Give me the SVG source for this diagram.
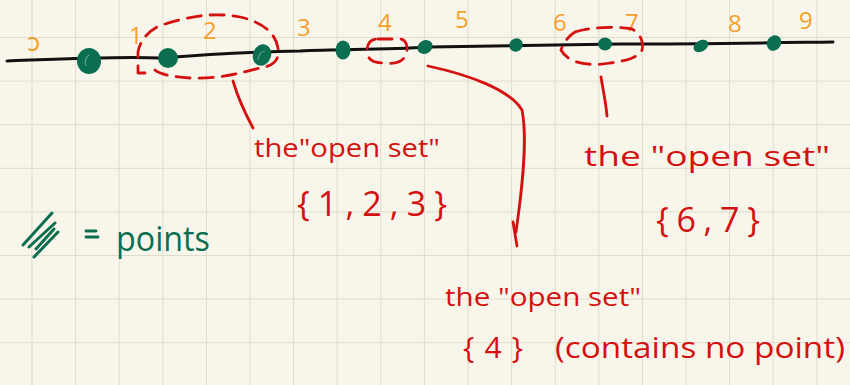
<svg xmlns="http://www.w3.org/2000/svg" width="850" height="385" viewBox="0 0 850 385">
  <defs>
    <pattern id="grid" x="31.5" y="37" width="43.6" height="43.6" patternUnits="userSpaceOnUse">
      <path d="M0 0 V43.6 M0 0 H43.6" fill="none" stroke="#dfdccd" stroke-width="2"/>
    </pattern>
    <style>
      .ink { fill: none; stroke-linecap: round; stroke-linejoin: round; }
      .red { stroke: #d41010; stroke-width: 2.8; }
      .dash { stroke-dasharray: 14 9; }
      .pt { fill: #0b6e50; }
      .hl { fill: none; stroke: #ffffff; stroke-opacity: 0.35; stroke-width: 1.2; }
      .num { font-family: "Open Sans", "DejaVu Sans", sans-serif; font-size: 24px; fill: #f6a02c; }
      .lbl { font-family: "Open Sans", "DejaVu Sans", sans-serif; fill: #d41010; }
      .grn { font-family: "Open Sans", "DejaVu Sans", sans-serif; fill: #0b6e50; }
    </style>
  </defs>

  <!-- paper -->
  <rect width="850" height="385" fill="#f8f6ea"/>
  <rect width="850" height="385" fill="url(#grid)"/>

  <!-- number line -->
  <g id="line">
    <path class="ink" stroke="#111" stroke-width="3" d="M7 61 C60 59 120 56 160 58 C200 55 240 52 300 51 C340 49 380 50 430 47 C500 46 560 45 620 44 C700 44 760 43 833 42"/>
  </g>

  <!-- tick labels -->
  <g id="labels">
    <text class="num" x="27" y="51">ↄ</text>
    <text class="num" x="129" y="44">1</text>
    <text class="num" x="203" y="39">2</text>
    <text class="num" x="297" y="36">3</text>
    <text class="num" x="378" y="31">4</text>
    <text class="num" x="455" y="28">5</text>
    <text class="num" x="553" y="31">6</text>
    <text class="num" x="625" y="31">7</text>
    <text class="num" x="728" y="32">8</text>
    <text class="num" x="799" y="29">9</text>
  </g>

  <!-- points -->
  <g id="points">
    <ellipse class="pt" cx="89" cy="61" rx="12" ry="13"/>
    <path class="hl" d="M86 66 C84 62 86 57 89 55"/>
    <ellipse class="pt" cx="168" cy="58" rx="10" ry="10"/>
    <ellipse class="pt" cx="262" cy="55" rx="9" ry="11" transform="rotate(20 262 55)"/>
    <path class="hl" d="M258 60 C258 55 262 51 265 51"/>
    <ellipse class="pt" cx="343" cy="50" rx="7.5" ry="9.5"/>
    <ellipse class="pt" cx="425" cy="47" rx="8" ry="6.5" transform="rotate(-30 425 47)"/>
    <ellipse class="pt" cx="516" cy="45" rx="7" ry="6.5" transform="rotate(-40 516 45)"/>
    <ellipse class="pt" cx="605" cy="44" rx="7" ry="6.5"/>
    <ellipse class="pt" cx="701" cy="46" rx="8" ry="5.5" transform="rotate(-30 701 46)"/>
    <ellipse class="pt" cx="774" cy="43" rx="7" ry="8" transform="rotate(30 774 43)"/>
  </g>

  <!-- dashed open sets -->
  <g id="open-sets">
    <path class="ink red dash" d="M145 73 H138 V52 C140 40 150 28 165 24 C190 16 215 12 240 17 C258 21 275 30 278 48 C280 58 275 66 260 68 C240 73 220 79 190 78 C170 77 158 73 155 70"/>
    <path class="ink red dash" d="M378 39 H400 C408 39 409 52 404 58 C400 63 392 64 384 63 C374 63 367 60 367 51 C367 42 372 39 378 39"/>
    <path class="ink red dash" d="M575 32 C590 27 615 26 632 29 C640 33 644 42 642 50 C638 58 625 61 610 63 C595 66 578 64 570 59 C565 56 562 52 561 50 C563 44 568 36 575 32"/>
  </g>

  <!-- pointers -->
  <g id="connectors">
    <path class="ink red" d="M233 81 C238 98 246 115 253 128"/>
    <path class="ink red" d="M428 66 C470 75 510 90 522 110 C528 140 522 190 516 232"/>
    <path class="ink red" d="M513 222 L517 246"/>
    <path class="ink red" d="M601 77 C603 90 606 103 607 116"/>
  </g>

  <!-- annotation: {1,2,3} -->
  <g id="set-123">
    <text class="lbl" x="254" y="157" font-size="26" textLength="186" lengthAdjust="spacingAndGlyphs">the"open set"</text>
    <text class="lbl" x="297" y="216" font-size="34" textLength="150" lengthAdjust="spacing">{1,2,3}</text>
  </g>

  <!-- annotation: {6,7} -->
  <g id="set-67">
    <text class="lbl" x="584" y="166" font-size="28" textLength="246" lengthAdjust="spacingAndGlyphs">the "open set"</text>
    <text class="lbl" x="656" y="232" font-size="34" textLength="104" lengthAdjust="spacing">{6,7}</text>
  </g>

  <!-- annotation: {4} -->
  <g id="set-4">
    <text class="lbl" x="445" y="306" font-size="26" textLength="196" lengthAdjust="spacingAndGlyphs">the "open set"</text>
    <text class="lbl" x="463" y="358" font-size="30" textLength="60" lengthAdjust="spacing">{4}</text>
    <text class="lbl" x="555" y="358" font-size="29" textLength="290" lengthAdjust="spacingAndGlyphs">(contains no point)</text>
  </g>

  <!-- legend -->
  <g id="legend">
    <path class="ink" stroke="#0b6e50" stroke-width="3" d="M23 245 L52 213 M29 247 L55 223 M34 257 L58 232 M36 249 L54 229"/>
    <path class="ink" stroke="#0b6e50" stroke-width="2.8" d="M86 231 H96 M86 237 H98"/>
    <text class="grn" x="116" y="251" font-size="34" textLength="94" lengthAdjust="spacingAndGlyphs">points</text>
  </g>
</svg>
